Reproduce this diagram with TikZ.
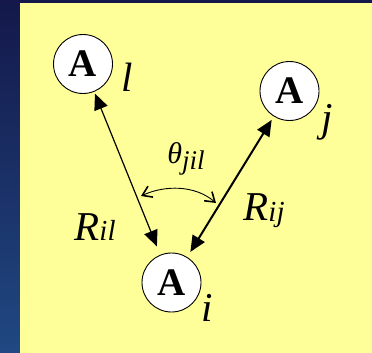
\documentclass[tikz,border=0pt]{standalone}
\usepackage{fontspec}
\setmainfont{Liberation Serif}
\usetikzlibrary{arrows.meta, positioning}

\definecolor{slidenavy}{RGB}{20,24,74}
\definecolor{slideblue}{RGB}{32,72,130}
\definecolor{notepaper}{RGB}{255,255,153}

\newcommand{\lowidx}[3][1pt]{\raisebox{-#1}{\fontsize{#2}{#2}\selectfont\textit{#3}}}

\begin{document}
\begin{tikzpicture}[
    x=1pt, y=-1pt,
    atom/.style={
        circle, draw, line width=0.9pt, fill=white,
        minimum size=59pt, inner sep=0pt,
        font=\fontsize{39}{39}\selectfont\bfseries
    },
    lbl/.style={anchor=base, inner sep=0pt, font=\fontsize{41}{41}\selectfont\itshape},
    bond/.style={{Triangle[length=16pt,width=14pt]}-{Triangle[length=16pt,width=14pt]}},
    swing/.style={{Straight Barb[length=9pt,width=12pt,line width=1.6pt]}-{Straight Barb[length=9pt,width=12pt,line width=1.6pt]}, line width=0.9pt}
]
    % Slide background
    \shade[top color=slidenavy, bottom color=slideblue] (0,0) rectangle (372,353);
    \fill[notepaper] (20,3.5) rectangle (372,353);
    \useasboundingbox (0,0) rectangle (372,353);

    % Atoms
    \node[atom] (atoml) at (83,64) {A};
    \node[atom] (atomj) at (289.5,91) {A};
    \node[atom] (atomi) at (171.5,282.5) {A};

    \node[lbl] (labl) at (127.5,92) {l};
    \node[lbl] (labj) at (327,131) {j};
    \node[lbl] (labi) at (207.5,321) {i};

    % Bonds
    \draw[bond, line width=1.2pt, shorten <=2pt, shorten >=9pt] (atoml) -- (atomi);
    \draw[bond, line width=2pt, shorten <=4pt, shorten >=6pt] (atomj) -- (atomi);

    \node[lbl] (ril) at (95,240) {R\lowidx[0pt]{29}{il}};
    \node[lbl] (rij) at (264,220) {R\lowidx{29}{ij}};

    % Bond angle
    \coordinate (angl) at (141,196);
    \coordinate (angr) at (216,203);
    \draw[swing] (angl) .. controls (165,185) and (195,185) .. (angr);
    \node[lbl, font=\fontsize{30}{30}\selectfont\itshape] (theta) at (186,163)
        {θ\lowidx[6pt]{27}{jil}};
\end{tikzpicture}
\end{document}
